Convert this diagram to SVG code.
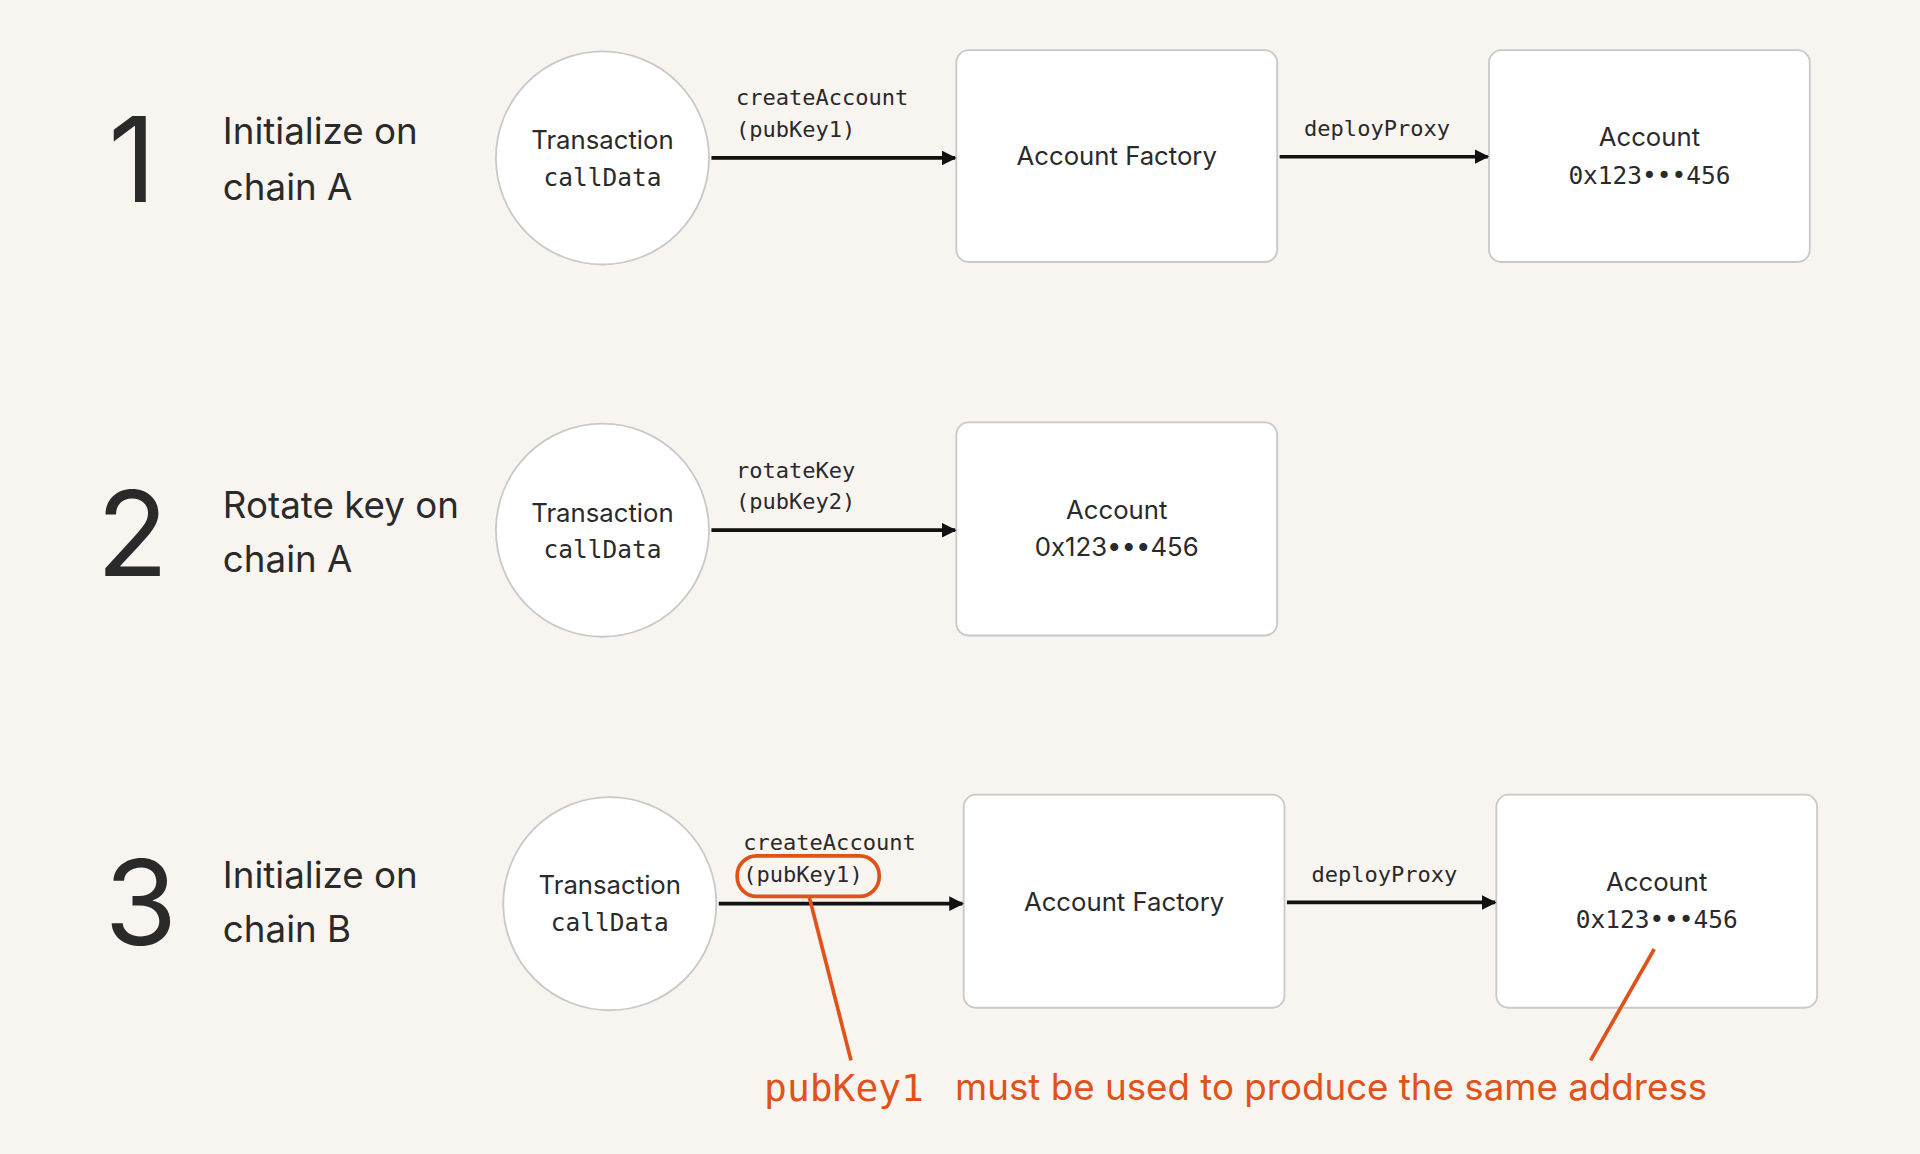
<svg xmlns="http://www.w3.org/2000/svg" width="1920" height="1154" viewBox="0 0 1920 1154">
<defs>
<marker id="ah" viewBox="0 0 10 10" refX="9" refY="5" markerWidth="4" markerHeight="4" orient="auto"><path d="M0,0L10,5L0,10z" fill="#111"/></marker>
<style>
.sans{font-family:Inter,"Liberation Sans",sans-serif;fill:#2a2a2a}
.mono{font-family:"DejaVu Sans Mono","Liberation Mono",monospace;fill:#2a2a2a}
.num{font-family:Inter,"Liberation Sans",sans-serif;fill:#2a2a2a;font-size:96px;text-anchor:middle}
.lbl{font-size:30px}
.circ{fill:#fff;stroke:#c9c9c9;stroke-width:1.5}
.box{fill:#fff;stroke:#c9c9c9;stroke-width:1.5}
.arr{stroke:#111;stroke-width:3;fill:none;marker-end:url(#ah)}
.or{stroke:#e0521a;stroke-width:3;fill:none}
</style>
</defs>
<rect width="1920" height="1154" fill="#f8f4f0"/>
<g transform="scale(1.2245)">
<g id="labels">
<text class="num" x="108" y="165">1</text>
<text class="sans lbl" x="182" y="118">Initialize on</text>
<text class="sans lbl" x="182" y="163">chain A</text>
<text class="num" x="108" y="470">2</text>
<text class="sans lbl" x="182" y="423">Rotate key on</text>
<text class="sans lbl" x="182" y="467">chain A</text>
<text class="num" x="115" y="772">3</text>
<text class="sans lbl" x="182" y="725">Initialize on</text>
<text class="sans lbl" x="182" y="769">chain B</text>
</g>
<g id="tx1"><circle class="circ" cx="492" cy="129" r="87"/><text class="sans" font-size="21" x="492" y="122" text-anchor="middle">Transaction</text><text class="mono" font-size="20" x="492" y="152" text-anchor="middle">callData</text></g>
<g id="factory1"><rect class="box" x="781" y="41" width="262" height="173" rx="10"/><text class="sans" font-size="21" x="912" y="135" text-anchor="middle">Account Factory</text></g>
<g id="account1"><rect class="box" x="1216" y="41" width="262" height="173" rx="10"/><text class="sans" font-size="21" x="1347" y="119" text-anchor="middle">Account</text><text class="mono" font-size="20" x="1347" y="150" text-anchor="middle">0x123•••456</text></g>
<g id="tx2"><circle class="circ" cx="492" cy="433" r="87"/><text class="sans" font-size="21" x="492" y="426" text-anchor="middle">Transaction</text><text class="mono" font-size="20" x="492" y="456" text-anchor="middle">callData</text></g>
<g id="account2"><rect class="box" x="781" y="345" width="262" height="174" rx="10"/><text class="sans" font-size="21" x="912" y="424" text-anchor="middle">Account</text><text class="sans" font-size="21" x="912" y="454" text-anchor="middle">0x123•••456</text></g>
<g id="tx3"><circle class="circ" cx="498" cy="738" r="87"/><text class="sans" font-size="21" x="498" y="730" text-anchor="middle">Transaction</text><text class="mono" font-size="20" x="498" y="760" text-anchor="middle">callData</text></g>
<g id="factory3"><rect class="box" x="787" y="649" width="262" height="174" rx="10"/><text class="sans" font-size="21" x="918" y="744" text-anchor="middle">Account Factory</text></g>
<g id="account3"><rect class="box" x="1222" y="649" width="262" height="174" rx="10"/><text class="sans" font-size="21" x="1353" y="728" text-anchor="middle">Account</text><text class="mono" font-size="20" x="1353" y="758" text-anchor="middle">0x123•••456</text></g>
<g id="connectors">
<line class="arr" x1="581" y1="129" x2="780" y2="129"/>
<text class="mono" font-size="18" x="601" y="86">createAccount</text>
<text class="mono" font-size="18" x="601" y="112">(pubKey1)</text>
<line class="arr" x1="1045" y1="128" x2="1215" y2="128"/>
<text class="mono" font-size="18" x="1065" y="111">deployProxy</text>
<line class="arr" x1="581" y1="433" x2="780" y2="433"/>
<text class="mono" font-size="18" x="601" y="390">rotateKey</text>
<text class="mono" font-size="18" x="601" y="416">(pubKey2)</text>
<line class="arr" x1="587" y1="738" x2="786" y2="738"/>
<text class="mono" font-size="18" x="607" y="694">createAccount</text>
<text class="mono" font-size="18" x="607" y="720">(pubKey1)</text>
<line class="arr" x1="1051" y1="737" x2="1221" y2="737"/>
<text class="mono" font-size="18" x="1071" y="720">deployProxy</text>
</g>
<g id="annotation">
<rect class="or" x="602" y="699" width="116" height="33" rx="16"/>
<line class="or" x1="661" y1="733" x2="695" y2="866"/>
<line class="or" x1="1351" y1="775" x2="1299" y2="866"/>
<text font-family="'DejaVu Sans Mono','Liberation Mono',monospace" font-size="31" fill="#e0521a" x="624" y="899">pubKey1</text>
<text font-family="Inter,'Liberation Sans',sans-serif" font-size="30" fill="#e0521a" x="780" y="898">must be used to produce the same address</text>
</g>
</g>
</svg>
